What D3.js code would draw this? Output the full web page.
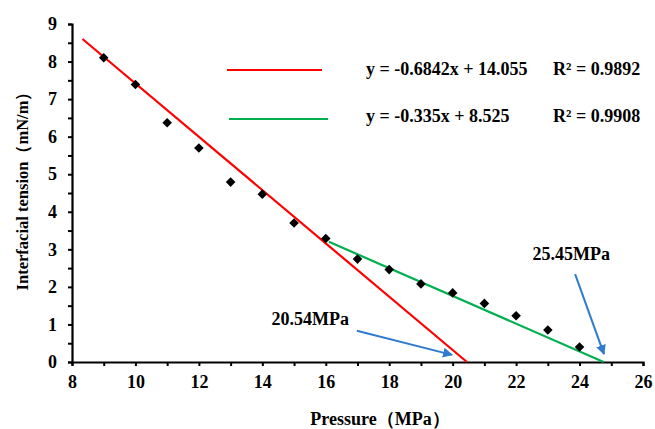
<!DOCTYPE html>
<html>
<head>
<meta charset="utf-8">
<script src="https://cdn.jsdelivr.net/npm/d3@7"></script>
<style>
  body { margin: 0; background: #fff; }
  svg text { font-family: "Liberation Serif", "Times New Roman", serif; font-weight: bold; }
</style>
</head>
<body>
<svg id="chart" width="655" height="429"></svg>
<script>
// measured points
let pressure = [9, 10, 11, 12, 13, 14, 15, 16, 17, 18, 19, 20, 21, 22, 23, 24];
let tension = [8.10, 7.39, 6.37, 5.70, 4.79, 4.47, 3.70, 3.29, 2.74, 2.46, 2.08, 1.84, 1.56, 1.23, 0.85, 0.40];

// fitted lines as drawn (start, end)
let redFit = [[8.33, 8.6], [20.45, 0]];
let greenFit = [[16.1, 3.2], [24.76, 0]];

let legendRows = [
  { color: '#ff0000', eq: 'y = -0.6842x + 14.055', r2: 'R² = 0.9892' },
  { color: '#00b050', eq: 'y = -0.335x + 8.525', r2: 'R² = 0.9908' }
];

// annotations: text and arrow in data units
let notes = [
  { text: '20.54MPa', tx: 14.29, ty: 0.99, from: [16.98, 0.83], to: [19.98, 0.19] },
  { text: '25.45MPa', tx: 22.52, ty: 2.72, from: [23.86, 2.34], to: [24.77, 0.21] }
];

let xTicks = d3.range(8, 27, 1);
let yTicks = d3.range(0, 9.01, 0.5);

let svg = d3.select('#chart');
let width = +svg.attr('width');
let height = +svg.attr('height');
let margin = { top: 24, right: 12, bottom: 67, left: 72 };

let x = d3.scaleLinear().domain([8, 26]).range([margin.left, width - margin.right]);
let y = d3.scaleLinear().domain([0, 9]).range([height - margin.bottom, margin.top]);

svg.append('defs').append('marker')
  .attr('id', 'head')
  .attr('viewBox', '0 0 10 10')
  .attr('refX', 9).attr('refY', 5)
  .attr('markerWidth', 5).attr('markerHeight', 5)
  .attr('markerUnits', 'strokeWidth')
  .attr('orient', 'auto')
  .append('path')
  .attr('d', 'M0,0L10,5L0,10z')
  .attr('fill', '#2e7bcf');

// axes
let xAxis = svg.append('g')
  .attr('transform', 'translate(0,' + y(0) + ')')
  .call(d3.axisBottom(x).tickValues(xTicks).tickSize(4).tickPadding(9)
    .tickFormat(function (d) { return d % 2 === 0 ? d : ''; }));

let yAxis = svg.append('g')
  .attr('transform', 'translate(' + x(8) + ',0)')
  .call(d3.axisLeft(y).tickValues(yTicks).tickSize(4).tickPadding(11)
    .tickFormat(function (d) { return d % 1 === 0 ? d : ''; }));

[xAxis, yAxis].forEach(function (a) {
  a.select('.domain').attr('stroke', '#000').attr('stroke-width', 2.2);
  a.selectAll('.tick line').attr('stroke', '#000').attr('stroke-width', 2);
  a.selectAll('.tick text').attr('font-size', 18).attr('fill', '#000')
    .style('font-family', '"Liberation Serif", serif').style('font-weight', 'bold');
});

svg.append('text')
  .attr('x', 380).attr('y', 425)
  .attr('text-anchor', 'middle')
  .attr('font-size', 18)
  .text('Pressure（MPa）');

svg.append('text')
  .attr('transform', 'translate(28,187) rotate(-90)')
  .attr('text-anchor', 'middle')
  .attr('font-size', 16.5)
  .text('Interfacial tension（mN/m）');

// fit lines
let line = d3.line().x(function (d) { return x(d[0]); }).y(function (d) { return y(d[1]); });

svg.append('path').datum(redFit)
  .attr('d', line).attr('fill', 'none')
  .attr('stroke', '#ff0000').attr('stroke-width', 2.2);

svg.append('path').datum(greenFit)
  .attr('d', line).attr('fill', 'none')
  .attr('stroke', '#00b050').attr('stroke-width', 2.2);

// points
svg.append('g')
  .selectAll('path')
  .data(pressure)
  .enter().append('path')
  .attr('d', d3.symbol().type(d3.symbolSquare).size(46))
  .attr('transform', function (d, i) { return 'translate(' + x(d) + ',' + y(tension[i]) + ') rotate(45)'; })
  .attr('fill', '#000');

// annotations
notes.forEach(function (n) {
  svg.append('line')
    .attr('x1', x(n.from[0])).attr('y1', y(n.from[1]))
    .attr('x2', x(n.to[0])).attr('y2', y(n.to[1]))
    .attr('stroke', '#2e7bcf').attr('stroke-width', 2)
    .attr('marker-end', 'url(#head)');
  svg.append('text')
    .attr('x', x(n.tx)).attr('y', y(n.ty))
    .attr('font-size', 18)
    .attr('fill', '#000')
    .text(n.text);
});

// legend
let legend = svg.append('g')
  .selectAll('g')
  .data(legendRows)
  .enter().append('g')
  .attr('transform', function (d, i) { return 'translate(0,' + (70 + i * 49) + ')'; });

legend.append('line')
  .attr('x1', function (d, i) { return 227 + i * 2; })
  .attr('x2', function (d, i) { return 322 + i * 6; })
  .attr('stroke', function (d) { return d.color; })
  .attr('stroke-width', 2.2);

legend.append('text')
  .attr('x', 366).attr('y', function (d, i) { return 5 - i * 2; })
  .attr('font-size', 18)
  .text(function (d) { return d.eq; });

legend.append('text')
  .attr('x', 553).attr('y', function (d, i) { return 5 - i * 2; })
  .attr('font-size', 18)
  .text(function (d) { return d.r2; });
</script>
</body>
</html>
